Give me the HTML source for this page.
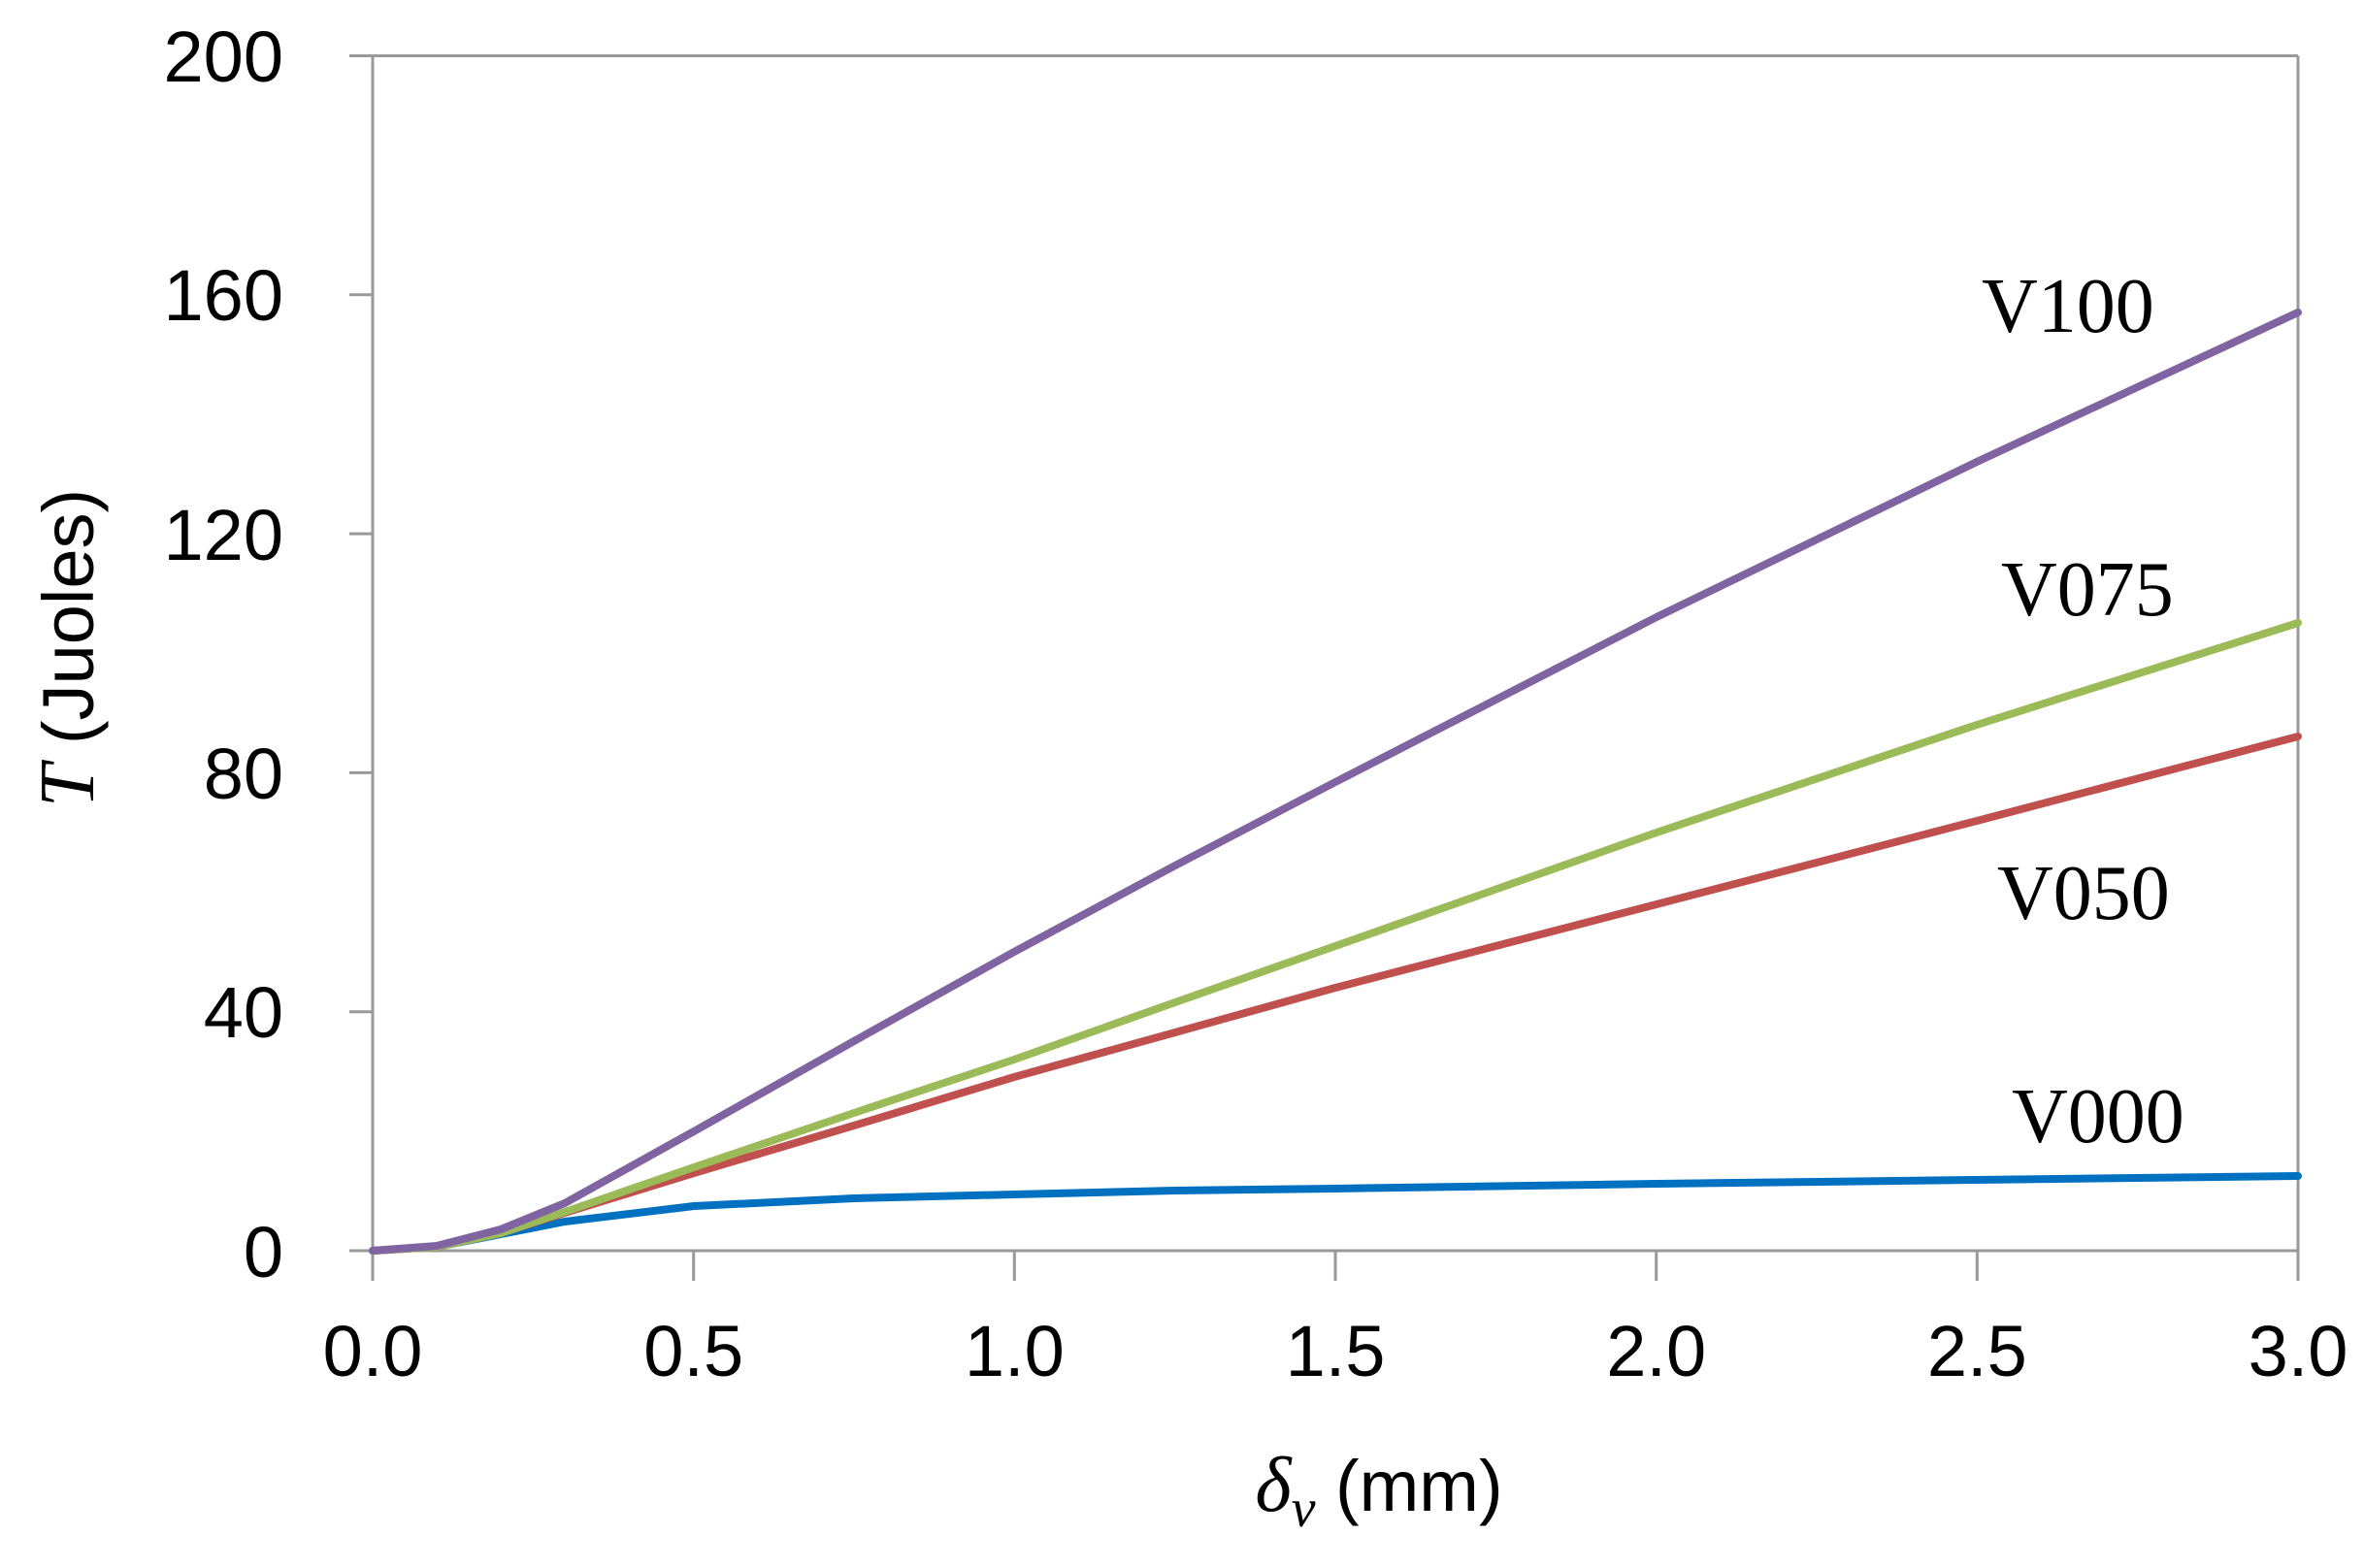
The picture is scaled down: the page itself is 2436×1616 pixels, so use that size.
<!DOCTYPE html>
<html><head><meta charset="utf-8"><style>html,body{margin:0;padding:0;background:#fff}</style></head>
<body>
<svg width="2436" height="1611" viewBox="0 0 2436 1611" xmlns="http://www.w3.org/2000/svg">
<rect width="2436" height="1611" fill="#fff"/>
<g stroke="#999" stroke-width="3" fill="none">
<line x1="384" y1="57.5" x2="384" y2="1289"/>
<line x1="2368" y1="57.5" x2="2368" y2="1289"/>
<line x1="360" y1="57.5" x2="2368" y2="57.5"/>
<line x1="360" y1="1289" x2="2368" y2="1289"/>
<line x1="360" y1="303.8" x2="384" y2="303.8"/>
<line x1="360" y1="550.1" x2="384" y2="550.1"/>
<line x1="360" y1="796.4" x2="384" y2="796.4"/>
<line x1="360" y1="1042.7" x2="384" y2="1042.7"/>
<line x1="384" y1="1289" x2="384" y2="1320"/>
<line x1="714.7" y1="1289" x2="714.7" y2="1320"/>
<line x1="1045.3" y1="1289" x2="1045.3" y2="1320"/>
<line x1="1376" y1="1289" x2="1376" y2="1320"/>
<line x1="1706.7" y1="1289" x2="1706.7" y2="1320"/>
<line x1="2037.3" y1="1289" x2="2037.3" y2="1320"/>
<line x1="2368" y1="1289" x2="2368" y2="1320"/>
</g>
<g font-family="'Liberation Sans', sans-serif" font-size="74" fill="#000" text-anchor="end">
<text x="292" y="84">200</text>
<text x="292" y="330">160</text>
<text x="292" y="577">120</text>
<text x="292" y="823">80</text>
<text x="292" y="1069">40</text>
<text x="292" y="1316">0</text>
</g>
<g font-family="'Liberation Sans', sans-serif" font-size="74" fill="#000" text-anchor="middle">
<text x="384" y="1418">0.0</text>
<text x="714.7" y="1418">0.5</text>
<text x="1045.3" y="1418">1.0</text>
<text x="1376" y="1418">1.5</text>
<text x="1706.7" y="1418">2.0</text>
<text x="2037.3" y="1418">2.5</text>
<text x="2368" y="1418">3.0</text>
</g>
<text x="1421" y="1557" text-anchor="middle" font-family="'Liberation Sans', sans-serif" font-size="74"><tspan font-family="'Liberation Serif', serif" font-style="italic" font-size="80">δ</tspan><tspan font-family="'Liberation Serif', serif" font-style="italic" font-size="56" dy="16">v</tspan><tspan dy="-16">  (mm)</tspan></text>
<text transform="translate(96,668) rotate(-90)" text-anchor="middle" font-family="'Liberation Sans', sans-serif" font-size="74"><tspan font-family="'Liberation Serif', serif" font-style="italic" font-size="80">T</tspan>  (Juoles)</text>
<g fill="none" stroke-width="8" stroke-linejoin="round" stroke-linecap="round">
<polyline stroke="#0070C0" points="384,1289 450,1285 516,1272 582,1259 715,1243 880,1235 1045,1231 1211,1227 1376,1225 1707,1220 2037,1216 2368,1212"/>
<polyline stroke="#C0504D" points="384,1289 450,1285 516,1271 582,1250 715,1209 880,1160 1045,1110 1211,1064 1376,1018 1707,932 2037,846 2368,759"/>
<polyline stroke="#9BBB59" points="384,1289 450,1285 516,1271 582,1249 715,1203 880,1147 1045,1092 1211,1033 1376,975 1707,858 2037,747 2368,642"/>
<polyline stroke="#8064A2" points="384,1289 450,1284 516,1267 582,1240 715,1166 880,1073 1045,981 1211,892 1376,806 1707,636 2037,476 2368,322"/>
</g>
<g font-family="'Liberation Serif', serif" font-size="80" fill="#000">
<text x="2042" y="342">V100</text>
<text x="2062" y="634">V075</text>
<text x="2058" y="947">V050</text>
<text x="2073" y="1177">V000</text>
</g>
</svg>
</body></html>
